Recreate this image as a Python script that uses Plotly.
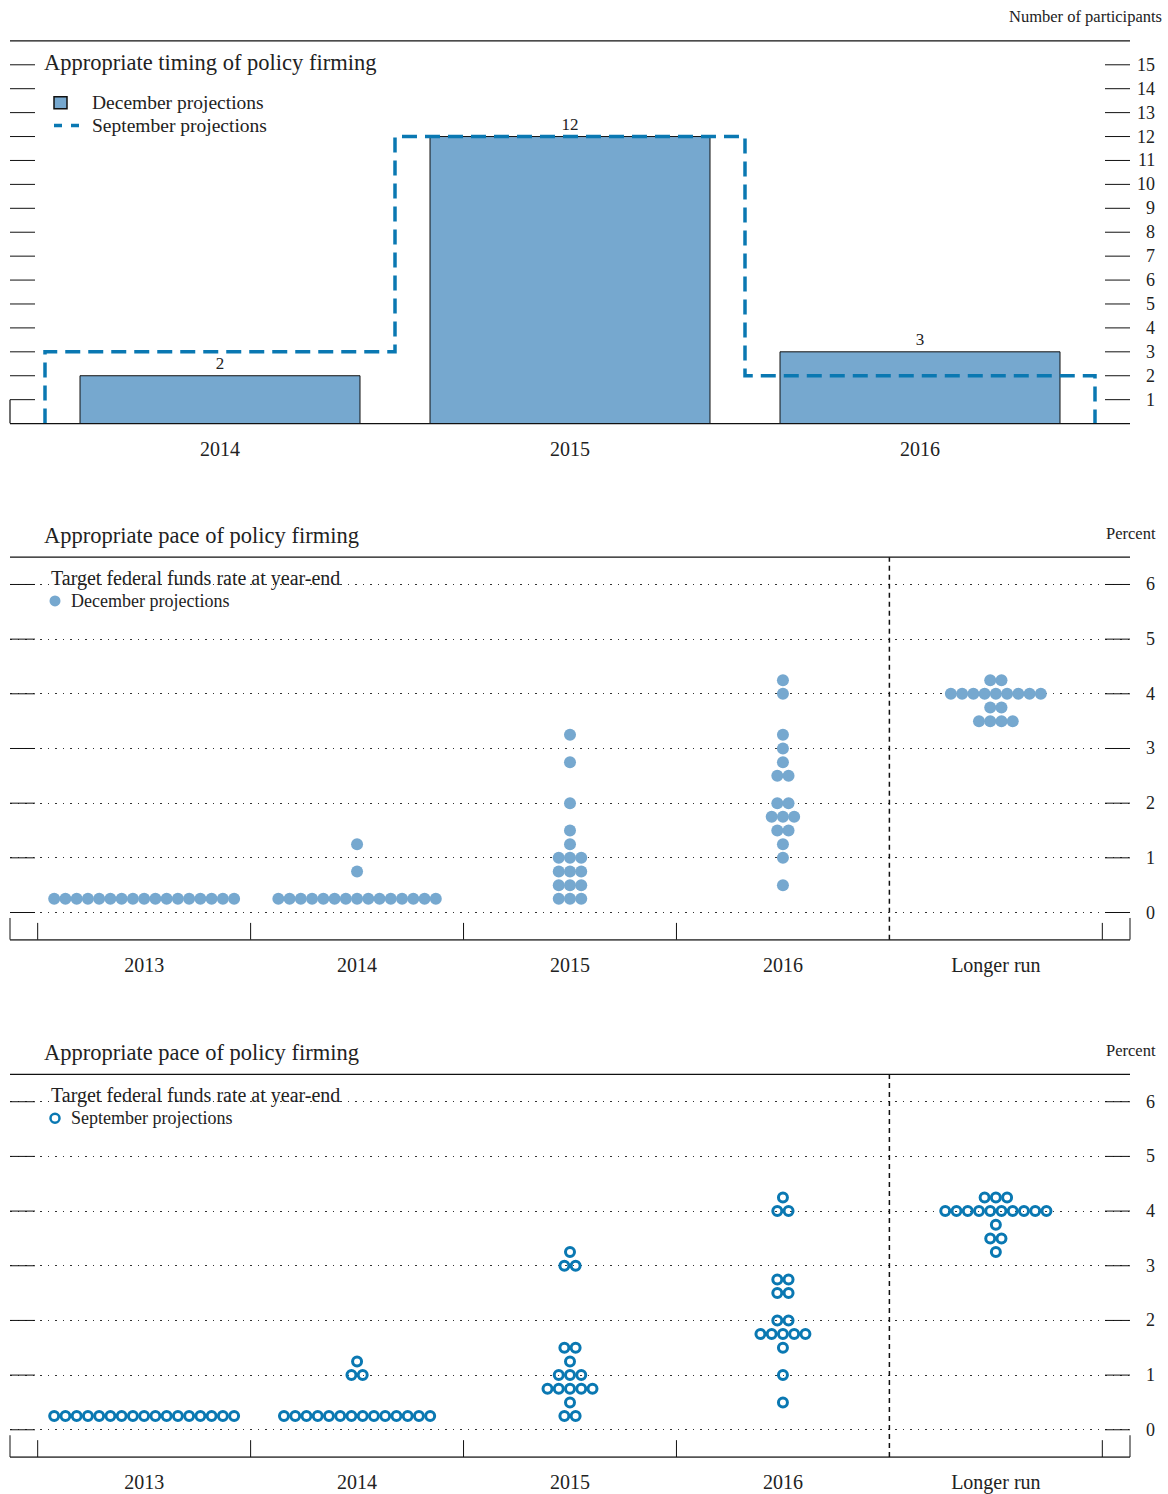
import plotly.graph_objects as go

W, H = 1168, 1494
FONT = "Liberation Serif"
INK = "#222222"
DEC_COLOR = "#76a8cf"
SEP_COLOR = "#0a78b2"

# ---------------- Panel 1 data: timing of policy firming ----------------
timing_years = ["2014", "2015", "2016"]
dec_timing = [2, 12, 3]
sep_timing = [3, 12, 2]
count_ticks = list(range(1, 16))

# ---------------- Panels 2-3 data: target federal funds rate ----------------
rate_categories = ["2013", "2014", "2015", "2016", "Longer run"]
rate_ticks = [0, 1, 2, 3, 4, 5, 6]

dec_rates = [
    [0.25],
    [0.25, 0.75, 1.25],
    [0.25, 0.5, 0.75, 1.0, 1.25, 1.5, 2.0, 2.75, 3.25],
    [0.5, 1.0, 1.25, 1.5, 1.75, 2.0, 2.5, 2.75, 3.0, 3.25, 4.0, 4.25],
    [3.5, 3.75, 4.0, 4.25],
]
dec_counts = [
    [17],
    [15, 1, 1],
    [3, 3, 3, 3, 1, 1, 1, 1, 1],
    [1, 1, 1, 2, 3, 2, 2, 1, 1, 1, 1, 1],
    [4, 2, 9, 2],
]

sep_rates = [
    [0.25],
    [0.25, 1.0, 1.25],
    [0.25, 0.5, 0.75, 1.0, 1.25, 1.5, 3.0, 3.25],
    [0.5, 1.0, 1.5, 1.75, 2.0, 2.5, 2.75, 4.0, 4.25],
    [3.25, 3.5, 3.75, 4.0, 4.25],
]
sep_counts = [
    [17],
    [14, 2, 1],
    [2, 1, 5, 3, 1, 2, 2, 1],
    [1, 1, 1, 5, 2, 2, 2, 2, 1],
    [1, 2, 1, 10, 3],
]

# ---------------- layout geometry (pixels) ----------------
X0, X1 = 10, 1130
panels_px = [(41, 425), (559, 943), (1078, 1462)]  # (top, bottom)
xdom = [X0 / W, X1 / W]


def ydom(top, bottom):
    return [1 - bottom / H, 1 - top / H]


DOT_STEP = 11.25 / 213.0


def swarm(rates, counts):
    xs, ys = [], []
    for i, (rs, cs) in enumerate(zip(rates, counts)):
        for r, c in zip(rs, cs):
            for k in range(c):
                xs.append(i + (k - (c - 1) / 2) * DOT_STEP)
                ys.append(r)
    return xs, ys


fig = go.Figure()

# Panel 1 bars
fig.add_trace(go.Bar(
    x=list(range(len(timing_years))), y=dec_timing, width=0.8,
    marker=dict(color=DEC_COLOR, line=dict(color="#111111", width=1)),
    text=[str(v) for v in dec_timing], textposition="outside",
    textfont=dict(family=FONT, size=17, color=INK), cliponaxis=False,
    xaxis="x", yaxis="y", showlegend=False,
))

# Panel 1 September step line (edges at category boundaries)
sx, sy = [-0.5], [0]
for i, v in enumerate(sep_timing):
    sx += [i - 0.5, i + 0.5]
    sy += [v, v]
sx.append(len(sep_timing) - 0.5)
sy.append(0)
fig.add_trace(go.Scatter(
    x=sx, y=sy, mode="lines",
    line=dict(color=SEP_COLOR, width=3.5, dash="15px,8px"),
    xaxis="x", yaxis="y", showlegend=False, cliponaxis=False,
))

# Panel 2 dots
dx, dy = swarm(dec_rates, dec_counts)
fig.add_trace(go.Scatter(
    x=dx, y=dy, mode="markers",
    marker=dict(color=DEC_COLOR, size=12, line=dict(width=0)),
    xaxis="x2", yaxis="y2", showlegend=False,
))

# Panel 3 open circles
px_, py_ = swarm(sep_rates, sep_counts)
fig.add_trace(go.Scatter(
    x=px_, y=py_, mode="markers",
    marker=dict(symbol="circle-open", color=SEP_COLOR, size=9, line=dict(width=3, color=SEP_COLOR)),
    xaxis="x3", yaxis="y3", showlegend=False,
))

axis_font = dict(family=FONT, size=20, color=INK)

layout = dict(
    width=W, height=H, margin=dict(l=0, r=0, t=0, b=0),
    paper_bgcolor="white", plot_bgcolor="white",
    showlegend=False,
    font=dict(family=FONT, color=INK),
    xaxis=dict(domain=xdom, anchor="y", range=[-0.6, 2.6],
               tickvals=list(range(len(timing_years))), ticktext=timing_years,
               ticks="", showgrid=False, zeroline=False, showline=False,
               tickfont=axis_font, ticklabelstandoff=11),
    yaxis=dict(domain=ydom(*panels_px[0]), anchor="x", range=[0, 16],
               showticklabels=False, ticks="", showgrid=False, zeroline=False),
)
for n, (top, bottom) in zip((2, 3), panels_px[1:]):
    layout[f"xaxis{n}"] = dict(
        domain=xdom, anchor=f"y{n}", range=[-0.63, 4.63],
        tickvals=list(range(len(rate_categories))), ticktext=rate_categories,
        ticks="", showgrid=False, zeroline=False, showline=False,
        tickfont=axis_font, ticklabelstandoff=11)
    layout[f"yaxis{n}"] = dict(
        domain=ydom(top, bottom), anchor=f"x{n}", range=[-0.5, 6.5],
        tickvals=rate_ticks, showticklabels=False, ticks="",
        showgrid=True, gridcolor="#333333", gridwidth=1.3, griddash="1.5px,6px",
        zeroline=False)
fig.update_layout(**layout)

shapes = []
annotations = []
TICK_FRAC = 25 / (X1 - X0)


def hline(xref, yref, x0, x1, y, width=1, color="#111111", dash=None):
    d = dict(type="line", xref=xref, yref=yref, x0=x0, x1=x1, y0=y, y1=y,
             line=dict(color=color, width=width))
    if dash:
        d["line"]["dash"] = dash
    shapes.append(d)


def vline(xref, yref, x, y0, y1, width=1, color="#111111", dash=None):
    d = dict(type="line", xref=xref, yref=yref, x0=x, x1=x, y0=y0, y1=y1,
             line=dict(color=color, width=width))
    if dash:
        d["line"]["dash"] = dash
    shapes.append(d)


def text(x_px, y_px, s, size, anchor="left", color=INK):
    annotations.append(dict(xref="paper", yref="paper", x=x_px / W, y=1 - y_px / H,
                            text=s, showarrow=False, xanchor=anchor, yanchor="middle",
                            borderpad=0,
                            font=dict(family=FONT, size=size, color=color)))


# ----- Panel 1 frame, ticks, labels -----
hline("x domain", "y domain", 0, 1, 1, width=1.2)
hline("x domain", "y domain", 0, 1, 0, width=1.2)
vline("x domain", "y", 0, 0, 1, width=1.2)
for v in count_ticks:
    hline("x domain", "y", 0, TICK_FRAC, v)
    hline("x domain", "y", 1 - TICK_FRAC, 1, v)
    annotations.append(dict(xref="paper", yref="y", x=1157 / W, y=v, text=str(v),
                            showarrow=False, xanchor="right", yanchor="middle",
                            font=dict(family=FONT, size=18, color=INK)))

text(1163, 17, "Number of participants", 16.5, anchor="right")
text(43, 63, "Appropriate timing of policy firming", 22.5)
# legend panel 1
shapes.append(dict(type="rect", xref="paper", yref="paper",
                   x0=54 / W, x1=67 / W, y0=1 - 109 / H, y1=1 - 97 / H,
                   fillcolor=DEC_COLOR, line=dict(color="#111111", width=1.5)))
shapes.append(dict(type="line", xref="paper", yref="paper",
                   x0=54 / W, x1=79 / W, y0=1 - 126 / H, y1=1 - 126 / H,
                   line=dict(color=SEP_COLOR, width=3.5, dash="8px,9px")))
text(91, 103, "December projections", 19.5)
text(91, 126, "September projections", 19.5)

# ----- Panels 2 & 3 frames, ticks, labels -----
for n, (top, bottom), series_name, filled in zip(
        (2, 3), panels_px[1:], ("December projections", "September projections"), (True, False)):
    xr, yr = f"x{n}", f"y{n}"
    xd, yd = f"x{n} domain", f"y{n} domain"
    hline(xd, yd, 0, 1, 1, width=1.2)
    hline(xd, yd, 0, 1, 0, width=1.6, color="#555555")
    for v in rate_ticks:
        hline(xd, yr, 0, TICK_FRAC, v)
        hline(xd, yr, 1 - TICK_FRAC, 1, v)
        annotations.append(dict(xref="paper", yref=yr, x=1157 / W, y=v, text=str(v),
                                showarrow=False, xanchor="right", yanchor="middle",
                                font=dict(family=FONT, size=18, color=INK)))
    # edge verticals and category dividers at bottom
    vline(xd, yr, 0, -0.5, -0.1)
    vline(xd, yr, 1, -0.5, -0.1)
    ncat = len(rate_categories)
    for b in range(ncat + 1):
        xb = b - 0.5
        if b == ncat - 1:
            vline(xr, yd, xb, 0, 1, width=1.5, dash="5px,4px")
        else:
            vline(xr, yr, xb, -0.5, -0.19)
    text(43, top - 22, "Appropriate pace of policy firming", 22.5)
    text(1157, top - 24, "Percent", 16.5, anchor="right")
    text(50, top + 21, "Target federal funds rate at year-end", 20)
    cy = top + 44
    if filled:
        shapes.append(dict(type="circle", xref="paper", yref="paper",
                           x0=(55 - 5.5) / W, x1=(55 + 5.5) / W,
                           y0=1 - (cy + 5.5) / H, y1=1 - (cy - 5.5) / H,
                           fillcolor=DEC_COLOR, line=dict(width=0)))
    else:
        shapes.append(dict(type="circle", xref="paper", yref="paper",
                           x0=(55 - 4.5) / W, x1=(55 + 4.5) / W,
                           y0=1 - (cy + 4.5) / H, y1=1 - (cy - 4.5) / H,
                           fillcolor="white", line=dict(width=2.5, color=SEP_COLOR)))
    text(70, cy, series_name, 18)

fig.update_layout(shapes=shapes, annotations=annotations)

fig.write_html("out.html", config={"displayModeBar": False},
               post_script="document.body.style.margin='0';document.body.style.overflow='hidden';")
